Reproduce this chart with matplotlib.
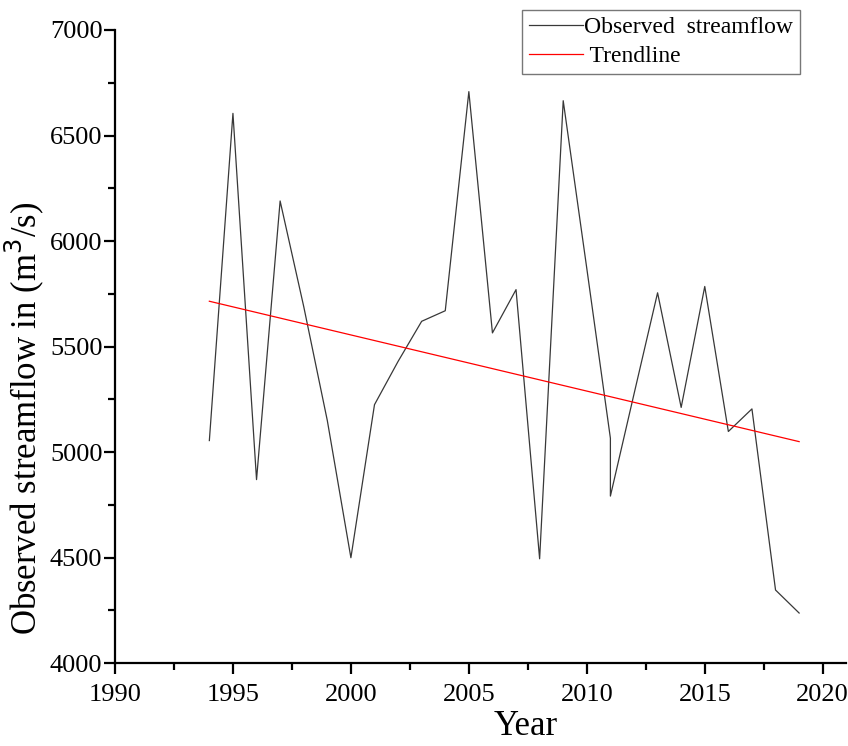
import matplotlib.pyplot as plt
from matplotlib.ticker import MultipleLocator

plt.rcParams['font.family'] = ['Liberation Serif', 'DejaVu Serif']

# observed streamflow (m3/s); 2011 appears twice in the source plot (vertical drop)
years = [1994, 1995, 1996, 1997, 1998, 1999, 2000, 2001, 2002, 2003, 2004,
         2005, 2006, 2007, 2008, 2009, 2010, 2011, 2011, 2012, 2013, 2014,
         2015, 2016, 2017, 2018, 2019]
flow = [5055, 6605, 4870, 6190, 5690, 5150, 4500, 5225, 5430, 5620, 5670,
        6708, 5565, 5770, 4495, 6665, 5870, 5066, 4792, 5275, 5755, 5212,
        5785, 5098, 5205, 4347, 4238]

# linear trend as drawn in the figure
trend_years = [1994, 2019]
trend_flow = [5715, 5050]

fig = plt.figure(figsize=(8.48, 7.46), dpi=100)
ax = fig.add_axes([0.1356, 0.1109, 0.8624, 0.8489])

ax.plot(years, flow, color='#383838', linewidth=0.9, label='Observed  streamflow')
ax.plot(trend_years, trend_flow, color='red', linewidth=0.9, label=' Trendline')

ax.set_xlim(1990, 2021)
ax.set_ylim(4000, 7000)
ax.xaxis.set_major_locator(MultipleLocator(5))
ax.xaxis.set_minor_locator(MultipleLocator(2.5))
ax.yaxis.set_major_locator(MultipleLocator(500))
ax.yaxis.set_minor_locator(MultipleLocator(250))

for s in ['top', 'right']:
    ax.spines[s].set_visible(False)
for s in ['left', 'bottom']:
    ax.spines[s].set_linewidth(1.6)

ax.tick_params(which='major', direction='out', length=8, width=1.6, labelsize=19)
ax.tick_params(which='minor', direction='out', length=5, width=1.6)
ax.tick_params(axis='x', which='major', pad=7)
ax.tick_params(axis='y', which='major', pad=1)

ax.set_xlabel('Year', fontsize=25)
ax.xaxis.set_label_coords(0.562, -0.074)
ax.set_ylabel('Observed streamflow in (m$^3$/s)', fontsize=25)
ax.yaxis.set_label_coords(-0.094, 0.387)

leg = ax.legend(loc='upper right', bbox_to_anchor=(0.937, 1.032), fontsize=17,
                frameon=True, fancybox=False, handlelength=2.3, handletextpad=0.05,
                borderpad=0.3, labelspacing=0.3, borderaxespad=0)
leg.get_frame().set_edgecolor('#555555')
leg.get_frame().set_linewidth(1.0)

fig.savefig('out.png', dpi=100)
